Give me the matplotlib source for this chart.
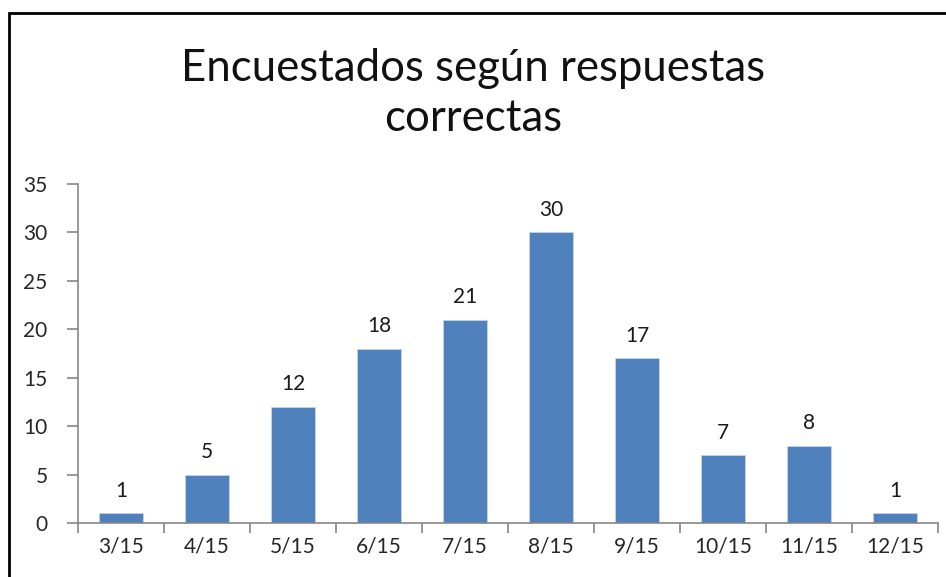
import matplotlib.pyplot as plt
from matplotlib.patches import Rectangle

# Data
categorias = ['3/15', '4/15', '5/15', '6/15', '7/15', '8/15', '9/15', '10/15', '11/15', '12/15']
encuestados = [1, 5, 12, 18, 21, 30, 17, 7, 8, 1]
y_ticks = [0, 5, 10, 15, 20, 25, 30, 35]

plt.rcParams['font.family'] = ['Lato', 'DejaVu Sans']

fig = plt.figure(figsize=(9.46, 5.77), dpi=100)
ax = fig.add_axes([0.0825, 0.0936, 0.9090, 0.5875])

x = list(range(len(categorias)))
bars = ax.bar(x, encuestados, width=0.51, color='#4F81BD', edgecolor='#C6D5EA', linewidth=0.6)

for xi, v in zip(x, encuestados):
    ax.text(xi, v + 1.3, str(v), ha='center', va='bottom', fontsize=15, color='#1a1a1a')

ax.set_xlim(-0.5, len(categorias) - 0.5)
ax.set_ylim(0, 35)
ax.set_yticks(y_ticks)
ax.set_xticks(x)
ax.set_xticklabels(categorias)
ax.set_xticks([i - 0.5 for i in range(len(categorias) + 1)], minor=True)

for s in ['top', 'right']:
    ax.spines[s].set_visible(False)
for s in ['left', 'bottom']:
    ax.spines[s].set_color('#868686')
    ax.spines[s].set_linewidth(1.2)

ax.tick_params(axis='y', direction='out', length=8, width=1.2, color='#868686',
               labelsize=15, labelcolor='#262626', pad=14)
ax.tick_params(axis='x', which='major', length=0, labelsize=15, labelcolor='#262626', pad=10)
ax.tick_params(axis='x', which='minor', direction='out', length=7, width=1.2, color='#868686')

fig.text(0.5, 0.838, 'Encuestados según respuestas\ncorrectas', ha='center', va='center',
         fontsize=31.5, color='#111111', linespacing=1.3)

# chart border (only top and left visible in the crop)
fig.patches.append(Rectangle((0.009, -0.05), 1.2, 1.0275,
                             transform=fig.transFigure, fill=False,
                             edgecolor='black', linewidth=2.0))

fig.savefig('out.png', dpi=100)
